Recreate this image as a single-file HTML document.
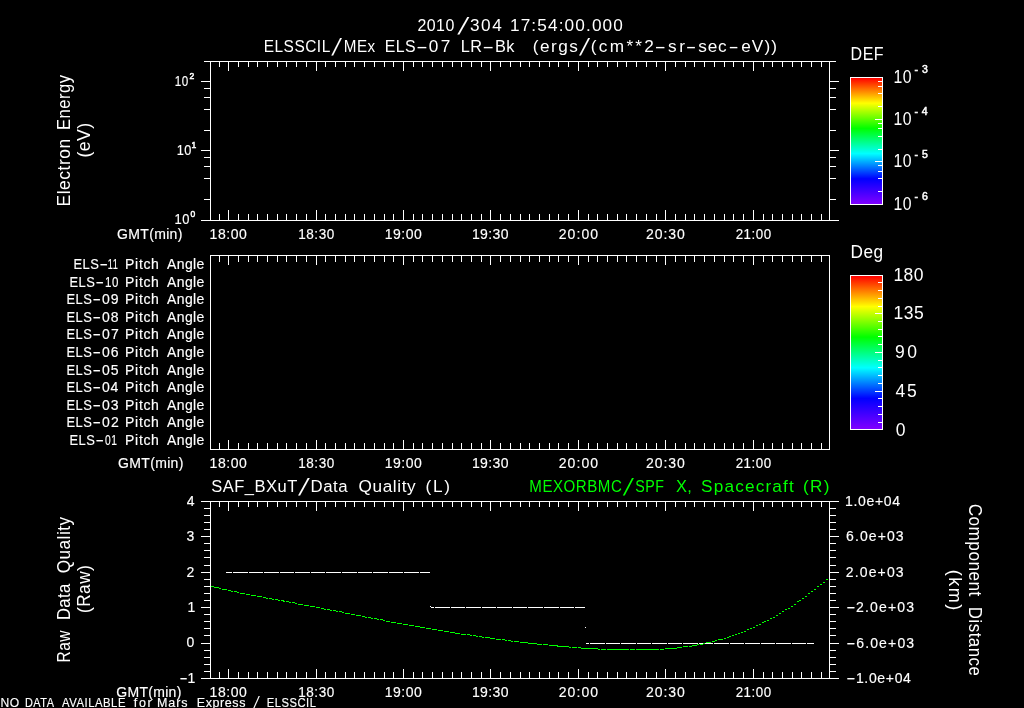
<!DOCTYPE html>
<html><head><meta charset="utf-8"><title>ELSSCIL plot</title>
<style>html,body{margin:0;padding:0;background:#000;overflow:hidden}svg{display:block}
text{font-family:"Liberation Sans", sans-serif;stroke:#fff;stroke-width:.15px;white-space:pre}text.g{stroke:#00ff00}text.b{stroke-width:.5px}text.T{stroke:none}</style>
</head><body>
<svg width="1024" height="708" viewBox="0 0 1024 708" shape-rendering="crispEdges">
<rect width="1024" height="708" fill="#000"/>
<rect x="210" y="61" width="620" height="1" fill="#fff"/>
<rect x="210" y="220" width="620" height="1" fill="#fff"/>
<rect x="210" y="61" width="1" height="160" fill="#fff"/>
<rect x="829" y="61" width="1" height="160" fill="#fff"/>
<rect x="219" y="61" width="1" height="6" fill="#fff"/>
<rect x="219" y="214" width="1" height="7" fill="#fff"/>
<rect x="228" y="61" width="1" height="10" fill="#fff"/>
<rect x="228" y="210" width="1" height="11" fill="#fff"/>
<rect x="238" y="61" width="1" height="6" fill="#fff"/>
<rect x="238" y="214" width="1" height="7" fill="#fff"/>
<rect x="248" y="61" width="1" height="6" fill="#fff"/>
<rect x="248" y="214" width="1" height="7" fill="#fff"/>
<rect x="257" y="61" width="1" height="6" fill="#fff"/>
<rect x="257" y="214" width="1" height="7" fill="#fff"/>
<rect x="267" y="61" width="1" height="6" fill="#fff"/>
<rect x="267" y="214" width="1" height="7" fill="#fff"/>
<rect x="277" y="61" width="1" height="6" fill="#fff"/>
<rect x="277" y="214" width="1" height="7" fill="#fff"/>
<rect x="286" y="61" width="1" height="6" fill="#fff"/>
<rect x="286" y="214" width="1" height="7" fill="#fff"/>
<rect x="296" y="61" width="1" height="6" fill="#fff"/>
<rect x="296" y="214" width="1" height="7" fill="#fff"/>
<rect x="306" y="61" width="1" height="6" fill="#fff"/>
<rect x="306" y="214" width="1" height="7" fill="#fff"/>
<rect x="316" y="61" width="1" height="10" fill="#fff"/>
<rect x="316" y="210" width="1" height="11" fill="#fff"/>
<rect x="325" y="61" width="1" height="6" fill="#fff"/>
<rect x="325" y="214" width="1" height="7" fill="#fff"/>
<rect x="335" y="61" width="1" height="6" fill="#fff"/>
<rect x="335" y="214" width="1" height="7" fill="#fff"/>
<rect x="345" y="61" width="1" height="6" fill="#fff"/>
<rect x="345" y="214" width="1" height="7" fill="#fff"/>
<rect x="354" y="61" width="1" height="6" fill="#fff"/>
<rect x="354" y="214" width="1" height="7" fill="#fff"/>
<rect x="364" y="61" width="1" height="6" fill="#fff"/>
<rect x="364" y="214" width="1" height="7" fill="#fff"/>
<rect x="374" y="61" width="1" height="6" fill="#fff"/>
<rect x="374" y="214" width="1" height="7" fill="#fff"/>
<rect x="384" y="61" width="1" height="6" fill="#fff"/>
<rect x="384" y="214" width="1" height="7" fill="#fff"/>
<rect x="393" y="61" width="1" height="6" fill="#fff"/>
<rect x="393" y="214" width="1" height="7" fill="#fff"/>
<rect x="403" y="61" width="1" height="10" fill="#fff"/>
<rect x="403" y="210" width="1" height="11" fill="#fff"/>
<rect x="413" y="61" width="1" height="6" fill="#fff"/>
<rect x="413" y="214" width="1" height="7" fill="#fff"/>
<rect x="422" y="61" width="1" height="6" fill="#fff"/>
<rect x="422" y="214" width="1" height="7" fill="#fff"/>
<rect x="432" y="61" width="1" height="6" fill="#fff"/>
<rect x="432" y="214" width="1" height="7" fill="#fff"/>
<rect x="442" y="61" width="1" height="6" fill="#fff"/>
<rect x="442" y="214" width="1" height="7" fill="#fff"/>
<rect x="452" y="61" width="1" height="6" fill="#fff"/>
<rect x="452" y="214" width="1" height="7" fill="#fff"/>
<rect x="461" y="61" width="1" height="6" fill="#fff"/>
<rect x="461" y="214" width="1" height="7" fill="#fff"/>
<rect x="471" y="61" width="1" height="6" fill="#fff"/>
<rect x="471" y="214" width="1" height="7" fill="#fff"/>
<rect x="481" y="61" width="1" height="6" fill="#fff"/>
<rect x="481" y="214" width="1" height="7" fill="#fff"/>
<rect x="490" y="61" width="1" height="10" fill="#fff"/>
<rect x="490" y="210" width="1" height="11" fill="#fff"/>
<rect x="500" y="61" width="1" height="6" fill="#fff"/>
<rect x="500" y="214" width="1" height="7" fill="#fff"/>
<rect x="510" y="61" width="1" height="6" fill="#fff"/>
<rect x="510" y="214" width="1" height="7" fill="#fff"/>
<rect x="520" y="61" width="1" height="6" fill="#fff"/>
<rect x="520" y="214" width="1" height="7" fill="#fff"/>
<rect x="529" y="61" width="1" height="6" fill="#fff"/>
<rect x="529" y="214" width="1" height="7" fill="#fff"/>
<rect x="539" y="61" width="1" height="6" fill="#fff"/>
<rect x="539" y="214" width="1" height="7" fill="#fff"/>
<rect x="549" y="61" width="1" height="6" fill="#fff"/>
<rect x="549" y="214" width="1" height="7" fill="#fff"/>
<rect x="558" y="61" width="1" height="6" fill="#fff"/>
<rect x="558" y="214" width="1" height="7" fill="#fff"/>
<rect x="568" y="61" width="1" height="6" fill="#fff"/>
<rect x="568" y="214" width="1" height="7" fill="#fff"/>
<rect x="578" y="61" width="1" height="10" fill="#fff"/>
<rect x="578" y="210" width="1" height="11" fill="#fff"/>
<rect x="588" y="61" width="1" height="6" fill="#fff"/>
<rect x="588" y="214" width="1" height="7" fill="#fff"/>
<rect x="597" y="61" width="1" height="6" fill="#fff"/>
<rect x="597" y="214" width="1" height="7" fill="#fff"/>
<rect x="607" y="61" width="1" height="6" fill="#fff"/>
<rect x="607" y="214" width="1" height="7" fill="#fff"/>
<rect x="617" y="61" width="1" height="6" fill="#fff"/>
<rect x="617" y="214" width="1" height="7" fill="#fff"/>
<rect x="626" y="61" width="1" height="6" fill="#fff"/>
<rect x="626" y="214" width="1" height="7" fill="#fff"/>
<rect x="636" y="61" width="1" height="6" fill="#fff"/>
<rect x="636" y="214" width="1" height="7" fill="#fff"/>
<rect x="646" y="61" width="1" height="6" fill="#fff"/>
<rect x="646" y="214" width="1" height="7" fill="#fff"/>
<rect x="656" y="61" width="1" height="6" fill="#fff"/>
<rect x="656" y="214" width="1" height="7" fill="#fff"/>
<rect x="665" y="61" width="1" height="10" fill="#fff"/>
<rect x="665" y="210" width="1" height="11" fill="#fff"/>
<rect x="675" y="61" width="1" height="6" fill="#fff"/>
<rect x="675" y="214" width="1" height="7" fill="#fff"/>
<rect x="685" y="61" width="1" height="6" fill="#fff"/>
<rect x="685" y="214" width="1" height="7" fill="#fff"/>
<rect x="694" y="61" width="1" height="6" fill="#fff"/>
<rect x="694" y="214" width="1" height="7" fill="#fff"/>
<rect x="704" y="61" width="1" height="6" fill="#fff"/>
<rect x="704" y="214" width="1" height="7" fill="#fff"/>
<rect x="714" y="61" width="1" height="6" fill="#fff"/>
<rect x="714" y="214" width="1" height="7" fill="#fff"/>
<rect x="724" y="61" width="1" height="6" fill="#fff"/>
<rect x="724" y="214" width="1" height="7" fill="#fff"/>
<rect x="733" y="61" width="1" height="6" fill="#fff"/>
<rect x="733" y="214" width="1" height="7" fill="#fff"/>
<rect x="743" y="61" width="1" height="6" fill="#fff"/>
<rect x="743" y="214" width="1" height="7" fill="#fff"/>
<rect x="753" y="61" width="1" height="10" fill="#fff"/>
<rect x="753" y="210" width="1" height="11" fill="#fff"/>
<rect x="763" y="61" width="1" height="6" fill="#fff"/>
<rect x="763" y="214" width="1" height="7" fill="#fff"/>
<rect x="772" y="61" width="1" height="6" fill="#fff"/>
<rect x="772" y="214" width="1" height="7" fill="#fff"/>
<rect x="782" y="61" width="1" height="6" fill="#fff"/>
<rect x="782" y="214" width="1" height="7" fill="#fff"/>
<rect x="792" y="61" width="1" height="6" fill="#fff"/>
<rect x="792" y="214" width="1" height="7" fill="#fff"/>
<rect x="801" y="61" width="1" height="6" fill="#fff"/>
<rect x="801" y="214" width="1" height="7" fill="#fff"/>
<rect x="811" y="61" width="1" height="6" fill="#fff"/>
<rect x="811" y="214" width="1" height="7" fill="#fff"/>
<rect x="821" y="61" width="1" height="6" fill="#fff"/>
<rect x="821" y="214" width="1" height="7" fill="#fff"/>
<text y="238.8" font-size="14" fill="#fff"><tspan x="209.56" style="letter-spacing:0.582px">18:00</tspan></text>
<text y="238.8" font-size="14" fill="#fff"><tspan x="298.35" textLength="36.31" lengthAdjust="spacingAndGlyphs" style="letter-spacing:0.518px">18:30</tspan></text>
<text y="238.8" font-size="14" fill="#fff"><tspan x="384.68" style="letter-spacing:0.520px">19:00</tspan></text>
<text y="238.8" font-size="14" fill="#fff"><tspan x="471.93" style="letter-spacing:0.395px">19:30</tspan></text>
<text y="238.8" font-size="14" fill="#fff"><tspan x="558.67" style="letter-spacing:1.117px">20:00</tspan></text>
<text y="238.8" font-size="14" fill="#fff"><tspan x="646.05" style="letter-spacing:0.929px">20:30</tspan></text>
<text y="238.8" font-size="14" fill="#fff"><tspan x="735.70" textLength="35.94" lengthAdjust="spacingAndGlyphs" style="letter-spacing:0.524px">21:00</tspan></text>
<text y="238.8" font-size="14" fill="#fff"><tspan x="117.05" style="letter-spacing:0.334px">GMT(min)</tspan></text>
<rect x="210" y="255" width="620" height="1" fill="#fff"/>
<rect x="210" y="449" width="620" height="1" fill="#fff"/>
<rect x="210" y="255" width="1" height="195" fill="#fff"/>
<rect x="829" y="255" width="1" height="195" fill="#fff"/>
<rect x="219" y="255" width="1" height="7" fill="#fff"/>
<rect x="219" y="443" width="1" height="7" fill="#fff"/>
<rect x="228" y="255" width="1" height="10" fill="#fff"/>
<rect x="228" y="440" width="1" height="10" fill="#fff"/>
<rect x="238" y="255" width="1" height="7" fill="#fff"/>
<rect x="238" y="443" width="1" height="7" fill="#fff"/>
<rect x="248" y="255" width="1" height="7" fill="#fff"/>
<rect x="248" y="443" width="1" height="7" fill="#fff"/>
<rect x="257" y="255" width="1" height="7" fill="#fff"/>
<rect x="257" y="443" width="1" height="7" fill="#fff"/>
<rect x="267" y="255" width="1" height="7" fill="#fff"/>
<rect x="267" y="443" width="1" height="7" fill="#fff"/>
<rect x="277" y="255" width="1" height="7" fill="#fff"/>
<rect x="277" y="443" width="1" height="7" fill="#fff"/>
<rect x="286" y="255" width="1" height="7" fill="#fff"/>
<rect x="286" y="443" width="1" height="7" fill="#fff"/>
<rect x="296" y="255" width="1" height="7" fill="#fff"/>
<rect x="296" y="443" width="1" height="7" fill="#fff"/>
<rect x="306" y="255" width="1" height="7" fill="#fff"/>
<rect x="306" y="443" width="1" height="7" fill="#fff"/>
<rect x="316" y="255" width="1" height="10" fill="#fff"/>
<rect x="316" y="440" width="1" height="10" fill="#fff"/>
<rect x="325" y="255" width="1" height="7" fill="#fff"/>
<rect x="325" y="443" width="1" height="7" fill="#fff"/>
<rect x="335" y="255" width="1" height="7" fill="#fff"/>
<rect x="335" y="443" width="1" height="7" fill="#fff"/>
<rect x="345" y="255" width="1" height="7" fill="#fff"/>
<rect x="345" y="443" width="1" height="7" fill="#fff"/>
<rect x="354" y="255" width="1" height="7" fill="#fff"/>
<rect x="354" y="443" width="1" height="7" fill="#fff"/>
<rect x="364" y="255" width="1" height="7" fill="#fff"/>
<rect x="364" y="443" width="1" height="7" fill="#fff"/>
<rect x="374" y="255" width="1" height="7" fill="#fff"/>
<rect x="374" y="443" width="1" height="7" fill="#fff"/>
<rect x="384" y="255" width="1" height="7" fill="#fff"/>
<rect x="384" y="443" width="1" height="7" fill="#fff"/>
<rect x="393" y="255" width="1" height="7" fill="#fff"/>
<rect x="393" y="443" width="1" height="7" fill="#fff"/>
<rect x="403" y="255" width="1" height="10" fill="#fff"/>
<rect x="403" y="440" width="1" height="10" fill="#fff"/>
<rect x="413" y="255" width="1" height="7" fill="#fff"/>
<rect x="413" y="443" width="1" height="7" fill="#fff"/>
<rect x="422" y="255" width="1" height="7" fill="#fff"/>
<rect x="422" y="443" width="1" height="7" fill="#fff"/>
<rect x="432" y="255" width="1" height="7" fill="#fff"/>
<rect x="432" y="443" width="1" height="7" fill="#fff"/>
<rect x="442" y="255" width="1" height="7" fill="#fff"/>
<rect x="442" y="443" width="1" height="7" fill="#fff"/>
<rect x="452" y="255" width="1" height="7" fill="#fff"/>
<rect x="452" y="443" width="1" height="7" fill="#fff"/>
<rect x="461" y="255" width="1" height="7" fill="#fff"/>
<rect x="461" y="443" width="1" height="7" fill="#fff"/>
<rect x="471" y="255" width="1" height="7" fill="#fff"/>
<rect x="471" y="443" width="1" height="7" fill="#fff"/>
<rect x="481" y="255" width="1" height="7" fill="#fff"/>
<rect x="481" y="443" width="1" height="7" fill="#fff"/>
<rect x="490" y="255" width="1" height="10" fill="#fff"/>
<rect x="490" y="440" width="1" height="10" fill="#fff"/>
<rect x="500" y="255" width="1" height="7" fill="#fff"/>
<rect x="500" y="443" width="1" height="7" fill="#fff"/>
<rect x="510" y="255" width="1" height="7" fill="#fff"/>
<rect x="510" y="443" width="1" height="7" fill="#fff"/>
<rect x="520" y="255" width="1" height="7" fill="#fff"/>
<rect x="520" y="443" width="1" height="7" fill="#fff"/>
<rect x="529" y="255" width="1" height="7" fill="#fff"/>
<rect x="529" y="443" width="1" height="7" fill="#fff"/>
<rect x="539" y="255" width="1" height="7" fill="#fff"/>
<rect x="539" y="443" width="1" height="7" fill="#fff"/>
<rect x="549" y="255" width="1" height="7" fill="#fff"/>
<rect x="549" y="443" width="1" height="7" fill="#fff"/>
<rect x="558" y="255" width="1" height="7" fill="#fff"/>
<rect x="558" y="443" width="1" height="7" fill="#fff"/>
<rect x="568" y="255" width="1" height="7" fill="#fff"/>
<rect x="568" y="443" width="1" height="7" fill="#fff"/>
<rect x="578" y="255" width="1" height="10" fill="#fff"/>
<rect x="578" y="440" width="1" height="10" fill="#fff"/>
<rect x="588" y="255" width="1" height="7" fill="#fff"/>
<rect x="588" y="443" width="1" height="7" fill="#fff"/>
<rect x="597" y="255" width="1" height="7" fill="#fff"/>
<rect x="597" y="443" width="1" height="7" fill="#fff"/>
<rect x="607" y="255" width="1" height="7" fill="#fff"/>
<rect x="607" y="443" width="1" height="7" fill="#fff"/>
<rect x="617" y="255" width="1" height="7" fill="#fff"/>
<rect x="617" y="443" width="1" height="7" fill="#fff"/>
<rect x="626" y="255" width="1" height="7" fill="#fff"/>
<rect x="626" y="443" width="1" height="7" fill="#fff"/>
<rect x="636" y="255" width="1" height="7" fill="#fff"/>
<rect x="636" y="443" width="1" height="7" fill="#fff"/>
<rect x="646" y="255" width="1" height="7" fill="#fff"/>
<rect x="646" y="443" width="1" height="7" fill="#fff"/>
<rect x="656" y="255" width="1" height="7" fill="#fff"/>
<rect x="656" y="443" width="1" height="7" fill="#fff"/>
<rect x="665" y="255" width="1" height="10" fill="#fff"/>
<rect x="665" y="440" width="1" height="10" fill="#fff"/>
<rect x="675" y="255" width="1" height="7" fill="#fff"/>
<rect x="675" y="443" width="1" height="7" fill="#fff"/>
<rect x="685" y="255" width="1" height="7" fill="#fff"/>
<rect x="685" y="443" width="1" height="7" fill="#fff"/>
<rect x="694" y="255" width="1" height="7" fill="#fff"/>
<rect x="694" y="443" width="1" height="7" fill="#fff"/>
<rect x="704" y="255" width="1" height="7" fill="#fff"/>
<rect x="704" y="443" width="1" height="7" fill="#fff"/>
<rect x="714" y="255" width="1" height="7" fill="#fff"/>
<rect x="714" y="443" width="1" height="7" fill="#fff"/>
<rect x="724" y="255" width="1" height="7" fill="#fff"/>
<rect x="724" y="443" width="1" height="7" fill="#fff"/>
<rect x="733" y="255" width="1" height="7" fill="#fff"/>
<rect x="733" y="443" width="1" height="7" fill="#fff"/>
<rect x="743" y="255" width="1" height="7" fill="#fff"/>
<rect x="743" y="443" width="1" height="7" fill="#fff"/>
<rect x="753" y="255" width="1" height="10" fill="#fff"/>
<rect x="753" y="440" width="1" height="10" fill="#fff"/>
<rect x="763" y="255" width="1" height="7" fill="#fff"/>
<rect x="763" y="443" width="1" height="7" fill="#fff"/>
<rect x="772" y="255" width="1" height="7" fill="#fff"/>
<rect x="772" y="443" width="1" height="7" fill="#fff"/>
<rect x="782" y="255" width="1" height="7" fill="#fff"/>
<rect x="782" y="443" width="1" height="7" fill="#fff"/>
<rect x="792" y="255" width="1" height="7" fill="#fff"/>
<rect x="792" y="443" width="1" height="7" fill="#fff"/>
<rect x="801" y="255" width="1" height="7" fill="#fff"/>
<rect x="801" y="443" width="1" height="7" fill="#fff"/>
<rect x="811" y="255" width="1" height="7" fill="#fff"/>
<rect x="811" y="443" width="1" height="7" fill="#fff"/>
<rect x="821" y="255" width="1" height="7" fill="#fff"/>
<rect x="821" y="443" width="1" height="7" fill="#fff"/>
<text y="467.8" font-size="14" fill="#fff"><tspan x="209.56" style="letter-spacing:0.582px">18:00</tspan></text>
<text y="467.8" font-size="14" fill="#fff"><tspan x="298.35" textLength="36.31" lengthAdjust="spacingAndGlyphs" style="letter-spacing:0.518px">18:30</tspan></text>
<text y="467.8" font-size="14" fill="#fff"><tspan x="384.68" style="letter-spacing:0.520px">19:00</tspan></text>
<text y="467.8" font-size="14" fill="#fff"><tspan x="471.93" style="letter-spacing:0.395px">19:30</tspan></text>
<text y="467.8" font-size="14" fill="#fff"><tspan x="558.67" style="letter-spacing:1.117px">20:00</tspan></text>
<text y="467.8" font-size="14" fill="#fff"><tspan x="646.05" style="letter-spacing:0.929px">20:30</tspan></text>
<text y="467.8" font-size="14" fill="#fff"><tspan x="735.70" textLength="35.94" lengthAdjust="spacingAndGlyphs" style="letter-spacing:0.524px">21:00</tspan></text>
<text y="467.8" font-size="14" fill="#fff"><tspan x="118.05" style="letter-spacing:0.334px">GMT(min)</tspan></text>
<rect x="210" y="501" width="620" height="1" fill="#fff"/>
<rect x="210" y="678" width="620" height="1" fill="#fff"/>
<rect x="210" y="501" width="1" height="178" fill="#fff"/>
<rect x="829" y="501" width="1" height="178" fill="#fff"/>
<rect x="219" y="501" width="1" height="6" fill="#fff"/>
<rect x="219" y="672" width="1" height="7" fill="#fff"/>
<rect x="228" y="501" width="1" height="10" fill="#fff"/>
<rect x="228" y="669" width="1" height="10" fill="#fff"/>
<rect x="238" y="501" width="1" height="6" fill="#fff"/>
<rect x="238" y="672" width="1" height="7" fill="#fff"/>
<rect x="248" y="501" width="1" height="6" fill="#fff"/>
<rect x="248" y="672" width="1" height="7" fill="#fff"/>
<rect x="257" y="501" width="1" height="6" fill="#fff"/>
<rect x="257" y="672" width="1" height="7" fill="#fff"/>
<rect x="267" y="501" width="1" height="6" fill="#fff"/>
<rect x="267" y="672" width="1" height="7" fill="#fff"/>
<rect x="277" y="501" width="1" height="6" fill="#fff"/>
<rect x="277" y="672" width="1" height="7" fill="#fff"/>
<rect x="286" y="501" width="1" height="6" fill="#fff"/>
<rect x="286" y="672" width="1" height="7" fill="#fff"/>
<rect x="296" y="501" width="1" height="6" fill="#fff"/>
<rect x="296" y="672" width="1" height="7" fill="#fff"/>
<rect x="306" y="501" width="1" height="6" fill="#fff"/>
<rect x="306" y="672" width="1" height="7" fill="#fff"/>
<rect x="316" y="501" width="1" height="10" fill="#fff"/>
<rect x="316" y="669" width="1" height="10" fill="#fff"/>
<rect x="325" y="501" width="1" height="6" fill="#fff"/>
<rect x="325" y="672" width="1" height="7" fill="#fff"/>
<rect x="335" y="501" width="1" height="6" fill="#fff"/>
<rect x="335" y="672" width="1" height="7" fill="#fff"/>
<rect x="345" y="501" width="1" height="6" fill="#fff"/>
<rect x="345" y="672" width="1" height="7" fill="#fff"/>
<rect x="354" y="501" width="1" height="6" fill="#fff"/>
<rect x="354" y="672" width="1" height="7" fill="#fff"/>
<rect x="364" y="501" width="1" height="6" fill="#fff"/>
<rect x="364" y="672" width="1" height="7" fill="#fff"/>
<rect x="374" y="501" width="1" height="6" fill="#fff"/>
<rect x="374" y="672" width="1" height="7" fill="#fff"/>
<rect x="384" y="501" width="1" height="6" fill="#fff"/>
<rect x="384" y="672" width="1" height="7" fill="#fff"/>
<rect x="393" y="501" width="1" height="6" fill="#fff"/>
<rect x="393" y="672" width="1" height="7" fill="#fff"/>
<rect x="403" y="501" width="1" height="10" fill="#fff"/>
<rect x="403" y="669" width="1" height="10" fill="#fff"/>
<rect x="413" y="501" width="1" height="6" fill="#fff"/>
<rect x="413" y="672" width="1" height="7" fill="#fff"/>
<rect x="422" y="501" width="1" height="6" fill="#fff"/>
<rect x="422" y="672" width="1" height="7" fill="#fff"/>
<rect x="432" y="501" width="1" height="6" fill="#fff"/>
<rect x="432" y="672" width="1" height="7" fill="#fff"/>
<rect x="442" y="501" width="1" height="6" fill="#fff"/>
<rect x="442" y="672" width="1" height="7" fill="#fff"/>
<rect x="452" y="501" width="1" height="6" fill="#fff"/>
<rect x="452" y="672" width="1" height="7" fill="#fff"/>
<rect x="461" y="501" width="1" height="6" fill="#fff"/>
<rect x="461" y="672" width="1" height="7" fill="#fff"/>
<rect x="471" y="501" width="1" height="6" fill="#fff"/>
<rect x="471" y="672" width="1" height="7" fill="#fff"/>
<rect x="481" y="501" width="1" height="6" fill="#fff"/>
<rect x="481" y="672" width="1" height="7" fill="#fff"/>
<rect x="490" y="501" width="1" height="10" fill="#fff"/>
<rect x="490" y="669" width="1" height="10" fill="#fff"/>
<rect x="500" y="501" width="1" height="6" fill="#fff"/>
<rect x="500" y="672" width="1" height="7" fill="#fff"/>
<rect x="510" y="501" width="1" height="6" fill="#fff"/>
<rect x="510" y="672" width="1" height="7" fill="#fff"/>
<rect x="520" y="501" width="1" height="6" fill="#fff"/>
<rect x="520" y="672" width="1" height="7" fill="#fff"/>
<rect x="529" y="501" width="1" height="6" fill="#fff"/>
<rect x="529" y="672" width="1" height="7" fill="#fff"/>
<rect x="539" y="501" width="1" height="6" fill="#fff"/>
<rect x="539" y="672" width="1" height="7" fill="#fff"/>
<rect x="549" y="501" width="1" height="6" fill="#fff"/>
<rect x="549" y="672" width="1" height="7" fill="#fff"/>
<rect x="558" y="501" width="1" height="6" fill="#fff"/>
<rect x="558" y="672" width="1" height="7" fill="#fff"/>
<rect x="568" y="501" width="1" height="6" fill="#fff"/>
<rect x="568" y="672" width="1" height="7" fill="#fff"/>
<rect x="578" y="501" width="1" height="10" fill="#fff"/>
<rect x="578" y="669" width="1" height="10" fill="#fff"/>
<rect x="588" y="501" width="1" height="6" fill="#fff"/>
<rect x="588" y="672" width="1" height="7" fill="#fff"/>
<rect x="597" y="501" width="1" height="6" fill="#fff"/>
<rect x="597" y="672" width="1" height="7" fill="#fff"/>
<rect x="607" y="501" width="1" height="6" fill="#fff"/>
<rect x="607" y="672" width="1" height="7" fill="#fff"/>
<rect x="617" y="501" width="1" height="6" fill="#fff"/>
<rect x="617" y="672" width="1" height="7" fill="#fff"/>
<rect x="626" y="501" width="1" height="6" fill="#fff"/>
<rect x="626" y="672" width="1" height="7" fill="#fff"/>
<rect x="636" y="501" width="1" height="6" fill="#fff"/>
<rect x="636" y="672" width="1" height="7" fill="#fff"/>
<rect x="646" y="501" width="1" height="6" fill="#fff"/>
<rect x="646" y="672" width="1" height="7" fill="#fff"/>
<rect x="656" y="501" width="1" height="6" fill="#fff"/>
<rect x="656" y="672" width="1" height="7" fill="#fff"/>
<rect x="665" y="501" width="1" height="10" fill="#fff"/>
<rect x="665" y="669" width="1" height="10" fill="#fff"/>
<rect x="675" y="501" width="1" height="6" fill="#fff"/>
<rect x="675" y="672" width="1" height="7" fill="#fff"/>
<rect x="685" y="501" width="1" height="6" fill="#fff"/>
<rect x="685" y="672" width="1" height="7" fill="#fff"/>
<rect x="694" y="501" width="1" height="6" fill="#fff"/>
<rect x="694" y="672" width="1" height="7" fill="#fff"/>
<rect x="704" y="501" width="1" height="6" fill="#fff"/>
<rect x="704" y="672" width="1" height="7" fill="#fff"/>
<rect x="714" y="501" width="1" height="6" fill="#fff"/>
<rect x="714" y="672" width="1" height="7" fill="#fff"/>
<rect x="724" y="501" width="1" height="6" fill="#fff"/>
<rect x="724" y="672" width="1" height="7" fill="#fff"/>
<rect x="733" y="501" width="1" height="6" fill="#fff"/>
<rect x="733" y="672" width="1" height="7" fill="#fff"/>
<rect x="743" y="501" width="1" height="6" fill="#fff"/>
<rect x="743" y="672" width="1" height="7" fill="#fff"/>
<rect x="753" y="501" width="1" height="10" fill="#fff"/>
<rect x="753" y="669" width="1" height="10" fill="#fff"/>
<rect x="763" y="501" width="1" height="6" fill="#fff"/>
<rect x="763" y="672" width="1" height="7" fill="#fff"/>
<rect x="772" y="501" width="1" height="6" fill="#fff"/>
<rect x="772" y="672" width="1" height="7" fill="#fff"/>
<rect x="782" y="501" width="1" height="6" fill="#fff"/>
<rect x="782" y="672" width="1" height="7" fill="#fff"/>
<rect x="792" y="501" width="1" height="6" fill="#fff"/>
<rect x="792" y="672" width="1" height="7" fill="#fff"/>
<rect x="801" y="501" width="1" height="6" fill="#fff"/>
<rect x="801" y="672" width="1" height="7" fill="#fff"/>
<rect x="811" y="501" width="1" height="6" fill="#fff"/>
<rect x="811" y="672" width="1" height="7" fill="#fff"/>
<rect x="821" y="501" width="1" height="6" fill="#fff"/>
<rect x="821" y="672" width="1" height="7" fill="#fff"/>
<text y="696.8" font-size="14" fill="#fff"><tspan x="209.56" style="letter-spacing:0.582px">18:00</tspan></text>
<text y="696.8" font-size="14" fill="#fff"><tspan x="298.35" textLength="36.31" lengthAdjust="spacingAndGlyphs" style="letter-spacing:0.518px">18:30</tspan></text>
<text y="696.8" font-size="14" fill="#fff"><tspan x="384.68" style="letter-spacing:0.520px">19:00</tspan></text>
<text y="696.8" font-size="14" fill="#fff"><tspan x="471.93" style="letter-spacing:0.395px">19:30</tspan></text>
<text y="696.8" font-size="14" fill="#fff"><tspan x="558.67" style="letter-spacing:1.117px">20:00</tspan></text>
<text y="696.8" font-size="14" fill="#fff"><tspan x="646.05" style="letter-spacing:0.929px">20:30</tspan></text>
<text y="696.8" font-size="14" fill="#fff"><tspan x="735.70" textLength="35.94" lengthAdjust="spacingAndGlyphs" style="letter-spacing:0.524px">21:00</tspan></text>
<text y="696.8" font-size="14" fill="#fff"><tspan x="116.30" style="letter-spacing:0.298px">GMT(min)</tspan></text>
<rect x="201" y="220" width="10" height="1" fill="#fff"/>
<rect x="829" y="220" width="10" height="1" fill="#fff"/>
<rect x="204" y="199" width="7" height="1" fill="#fff"/>
<rect x="829" y="199" width="7" height="1" fill="#fff"/>
<rect x="204" y="178" width="7" height="1" fill="#fff"/>
<rect x="829" y="178" width="7" height="1" fill="#fff"/>
<rect x="204" y="166" width="7" height="1" fill="#fff"/>
<rect x="829" y="166" width="7" height="1" fill="#fff"/>
<rect x="204" y="157" width="7" height="1" fill="#fff"/>
<rect x="829" y="157" width="7" height="1" fill="#fff"/>
<rect x="201" y="150" width="10" height="1" fill="#fff"/>
<rect x="829" y="150" width="10" height="1" fill="#fff"/>
<rect x="204" y="130" width="7" height="1" fill="#fff"/>
<rect x="829" y="130" width="7" height="1" fill="#fff"/>
<rect x="204" y="109" width="7" height="1" fill="#fff"/>
<rect x="829" y="109" width="7" height="1" fill="#fff"/>
<rect x="204" y="97" width="7" height="1" fill="#fff"/>
<rect x="829" y="97" width="7" height="1" fill="#fff"/>
<rect x="204" y="88" width="7" height="1" fill="#fff"/>
<rect x="829" y="88" width="7" height="1" fill="#fff"/>
<rect x="201" y="81" width="10" height="1" fill="#fff"/>
<rect x="829" y="81" width="10" height="1" fill="#fff"/>
<rect x="204" y="61" width="7" height="1" fill="#fff"/>
<rect x="829" y="61" width="7" height="1" fill="#fff"/>
<text y="86.3" font-size="14" fill="#fff"><tspan x="174.71" textLength="14.00" lengthAdjust="spacingAndGlyphs" style="letter-spacing:0.599px">10</tspan></text>
<text y="79.2" font-size="8.5" fill="#fff" class="b"><tspan x="189.51">2</tspan></text>
<text y="155.3" font-size="14" fill="#fff"><tspan x="176.78" textLength="15.22" lengthAdjust="spacingAndGlyphs" style="letter-spacing:0.547px">10</tspan></text>
<text y="148.2" font-size="8.5" fill="#fff" class="b"><tspan x="191.52">1</tspan></text>
<text y="224" font-size="14" fill="#fff"><tspan x="174.61" textLength="15.39" lengthAdjust="spacingAndGlyphs" style="letter-spacing:0.541px">10</tspan></text>
<text y="217" font-size="8.5" fill="#fff" class="b"><tspan x="190.39">0</tspan></text>
<rect x="201" y="501" width="10" height="1" fill="#fff"/>
<rect x="829" y="501" width="10" height="1" fill="#fff"/>
<rect x="204" y="508" width="7" height="1" fill="#fff"/>
<rect x="829" y="508" width="7" height="1" fill="#fff"/>
<rect x="204" y="515" width="7" height="1" fill="#fff"/>
<rect x="829" y="515" width="7" height="1" fill="#fff"/>
<rect x="204" y="522" width="7" height="1" fill="#fff"/>
<rect x="829" y="522" width="7" height="1" fill="#fff"/>
<rect x="204" y="529" width="7" height="1" fill="#fff"/>
<rect x="829" y="529" width="7" height="1" fill="#fff"/>
<rect x="201" y="536" width="10" height="1" fill="#fff"/>
<rect x="829" y="536" width="10" height="1" fill="#fff"/>
<rect x="204" y="543" width="7" height="1" fill="#fff"/>
<rect x="829" y="543" width="7" height="1" fill="#fff"/>
<rect x="204" y="550" width="7" height="1" fill="#fff"/>
<rect x="829" y="550" width="7" height="1" fill="#fff"/>
<rect x="204" y="557" width="7" height="1" fill="#fff"/>
<rect x="829" y="557" width="7" height="1" fill="#fff"/>
<rect x="204" y="565" width="7" height="1" fill="#fff"/>
<rect x="829" y="565" width="7" height="1" fill="#fff"/>
<rect x="201" y="572" width="10" height="1" fill="#fff"/>
<rect x="829" y="572" width="10" height="1" fill="#fff"/>
<rect x="204" y="579" width="7" height="1" fill="#fff"/>
<rect x="829" y="579" width="7" height="1" fill="#fff"/>
<rect x="204" y="586" width="7" height="1" fill="#fff"/>
<rect x="829" y="586" width="7" height="1" fill="#fff"/>
<rect x="204" y="593" width="7" height="1" fill="#fff"/>
<rect x="829" y="593" width="7" height="1" fill="#fff"/>
<rect x="204" y="600" width="7" height="1" fill="#fff"/>
<rect x="829" y="600" width="7" height="1" fill="#fff"/>
<rect x="201" y="607" width="10" height="1" fill="#fff"/>
<rect x="829" y="607" width="10" height="1" fill="#fff"/>
<rect x="204" y="614" width="7" height="1" fill="#fff"/>
<rect x="829" y="614" width="7" height="1" fill="#fff"/>
<rect x="204" y="621" width="7" height="1" fill="#fff"/>
<rect x="829" y="621" width="7" height="1" fill="#fff"/>
<rect x="204" y="628" width="7" height="1" fill="#fff"/>
<rect x="829" y="628" width="7" height="1" fill="#fff"/>
<rect x="204" y="635" width="7" height="1" fill="#fff"/>
<rect x="829" y="635" width="7" height="1" fill="#fff"/>
<rect x="201" y="643" width="10" height="1" fill="#fff"/>
<rect x="829" y="643" width="10" height="1" fill="#fff"/>
<rect x="204" y="650" width="7" height="1" fill="#fff"/>
<rect x="829" y="650" width="7" height="1" fill="#fff"/>
<rect x="204" y="657" width="7" height="1" fill="#fff"/>
<rect x="829" y="657" width="7" height="1" fill="#fff"/>
<rect x="204" y="664" width="7" height="1" fill="#fff"/>
<rect x="829" y="664" width="7" height="1" fill="#fff"/>
<rect x="204" y="671" width="7" height="1" fill="#fff"/>
<rect x="829" y="671" width="7" height="1" fill="#fff"/>
<rect x="201" y="678" width="10" height="1" fill="#fff"/>
<rect x="829" y="678" width="10" height="1" fill="#fff"/>
<text y="506" font-size="14" fill="#fff"><tspan x="186.65">4</tspan></text>
<text y="541" font-size="14" fill="#fff"><tspan x="186.52">3</tspan></text>
<text y="577" font-size="14" fill="#fff"><tspan x="186.61">2</tspan></text>
<text y="612" font-size="14" fill="#fff"><tspan x="187.42">1</tspan></text>
<text y="647.2" font-size="14" fill="#fff"><tspan x="186.61">0</tspan></text>
<text y="683" font-size="14" fill="#fff"><tspan x="179.41" textLength="8.18" lengthAdjust="spacingAndGlyphs">-</tspan><tspan x="187.42">1</tspan></text>
<text y="505.8" font-size="14" fill="#fff"><tspan x="844.93" style="letter-spacing:0.705px">1.0e+04</tspan></text>
<text y="540.8" font-size="14" fill="#fff"><tspan x="846.04" style="letter-spacing:1.097px">6.0e+03</tspan></text>
<text y="576.8" font-size="14" fill="#fff"><tspan x="845.80" style="letter-spacing:1.137px">2.0e+03</tspan></text>
<text y="611.8" font-size="14" fill="#fff"><tspan x="846.27" textLength="9.21" lengthAdjust="spacingAndGlyphs">-</tspan><tspan x="856.05" style="letter-spacing:1.179px">2.0e+03</tspan></text>
<text y="647.8" font-size="14" fill="#fff"><tspan x="846.27" textLength="9.21" lengthAdjust="spacingAndGlyphs">-</tspan><tspan x="856.19" style="letter-spacing:1.155px">6.0e+03</tspan></text>
<text y="682.8" font-size="14" fill="#fff"><tspan x="846.27" textLength="9.21" lengthAdjust="spacingAndGlyphs">-</tspan><tspan x="855.93" style="letter-spacing:0.663px">1.0e+04</tspan></text>
<text y="269.0" font-size="14" fill="#fff"><tspan x="73.44" textLength="25.90" lengthAdjust="spacingAndGlyphs" style="letter-spacing:0.542px">ELS</tspan><tspan x="99.61" textLength="8.53" lengthAdjust="spacingAndGlyphs">-</tspan><tspan x="107.84" textLength="10.58" lengthAdjust="spacingAndGlyphs" style="letter-spacing:0.813px">11</tspan> <tspan x="125.10" style="letter-spacing:0.671px">Pitch</tspan> <tspan x="166.97" style="letter-spacing:0.398px">Angle</tspan></text>
<text y="286.5" font-size="14" fill="#fff"><tspan x="69.44" textLength="25.90" lengthAdjust="spacingAndGlyphs" style="letter-spacing:0.542px">ELS</tspan><tspan x="95.61" textLength="8.53" lengthAdjust="spacingAndGlyphs">-</tspan><tspan x="105.12" textLength="13.83" lengthAdjust="spacingAndGlyphs" style="letter-spacing:0.607px">10</tspan> <tspan x="125.10" style="letter-spacing:0.671px">Pitch</tspan> <tspan x="166.97" style="letter-spacing:0.398px">Angle</tspan></text>
<text y="304.0" font-size="14" fill="#fff"><tspan x="66.44" textLength="25.90" lengthAdjust="spacingAndGlyphs" style="letter-spacing:0.542px">ELS</tspan><tspan x="92.61" textLength="8.53" lengthAdjust="spacingAndGlyphs">-</tspan><tspan x="101.95" style="letter-spacing:1.138px">09</tspan> <tspan x="125.10" style="letter-spacing:0.671px">Pitch</tspan> <tspan x="166.97" style="letter-spacing:0.398px">Angle</tspan></text>
<text y="321.5" font-size="14" fill="#fff"><tspan x="66.44" textLength="25.90" lengthAdjust="spacingAndGlyphs" style="letter-spacing:0.542px">ELS</tspan><tspan x="92.61" textLength="8.53" lengthAdjust="spacingAndGlyphs">-</tspan><tspan x="101.95" style="letter-spacing:1.083px">08</tspan> <tspan x="125.10" style="letter-spacing:0.671px">Pitch</tspan> <tspan x="166.97" style="letter-spacing:0.398px">Angle</tspan></text>
<text y="339.0" font-size="14" fill="#fff"><tspan x="66.44" textLength="25.90" lengthAdjust="spacingAndGlyphs" style="letter-spacing:0.542px">ELS</tspan><tspan x="92.61" textLength="8.53" lengthAdjust="spacingAndGlyphs">-</tspan><tspan x="101.95" style="letter-spacing:1.179px">07</tspan> <tspan x="125.10" style="letter-spacing:0.671px">Pitch</tspan> <tspan x="166.97" style="letter-spacing:0.398px">Angle</tspan></text>
<text y="357.0" font-size="14" fill="#fff"><tspan x="66.44" textLength="25.90" lengthAdjust="spacingAndGlyphs" style="letter-spacing:0.542px">ELS</tspan><tspan x="92.61" textLength="8.53" lengthAdjust="spacingAndGlyphs">-</tspan><tspan x="101.95" style="letter-spacing:1.090px">06</tspan> <tspan x="125.10" style="letter-spacing:0.671px">Pitch</tspan> <tspan x="166.97" style="letter-spacing:0.398px">Angle</tspan></text>
<text y="374.5" font-size="14" fill="#fff"><tspan x="66.44" textLength="25.90" lengthAdjust="spacingAndGlyphs" style="letter-spacing:0.542px">ELS</tspan><tspan x="92.61" textLength="8.53" lengthAdjust="spacingAndGlyphs">-</tspan><tspan x="101.95" style="letter-spacing:1.062px">05</tspan> <tspan x="125.10" style="letter-spacing:0.671px">Pitch</tspan> <tspan x="166.97" style="letter-spacing:0.398px">Angle</tspan></text>
<text y="392.0" font-size="14" fill="#fff"><tspan x="66.44" textLength="25.90" lengthAdjust="spacingAndGlyphs" style="letter-spacing:0.542px">ELS</tspan><tspan x="92.61" textLength="8.53" lengthAdjust="spacingAndGlyphs">-</tspan><tspan x="101.95" style="letter-spacing:0.885px">04</tspan> <tspan x="125.10" style="letter-spacing:0.671px">Pitch</tspan> <tspan x="166.97" style="letter-spacing:0.398px">Angle</tspan></text>
<text y="409.5" font-size="14" fill="#fff"><tspan x="66.44" textLength="25.90" lengthAdjust="spacingAndGlyphs" style="letter-spacing:0.542px">ELS</tspan><tspan x="92.61" textLength="8.53" lengthAdjust="spacingAndGlyphs">-</tspan><tspan x="101.95" style="letter-spacing:1.090px">03</tspan> <tspan x="125.10" style="letter-spacing:0.671px">Pitch</tspan> <tspan x="166.97" style="letter-spacing:0.398px">Angle</tspan></text>
<text y="427.0" font-size="14" fill="#fff"><tspan x="66.44" textLength="25.90" lengthAdjust="spacingAndGlyphs" style="letter-spacing:0.542px">ELS</tspan><tspan x="92.61" textLength="8.53" lengthAdjust="spacingAndGlyphs">-</tspan><tspan x="101.95" style="letter-spacing:1.179px">02</tspan> <tspan x="125.10" style="letter-spacing:0.671px">Pitch</tspan> <tspan x="166.97" style="letter-spacing:0.398px">Angle</tspan></text>
<text y="445.0" font-size="14" fill="#fff"><tspan x="69.44" textLength="25.90" lengthAdjust="spacingAndGlyphs" style="letter-spacing:0.542px">ELS</tspan><tspan x="95.61" textLength="8.53" lengthAdjust="spacingAndGlyphs">-</tspan><tspan x="105.10" textLength="12.40" lengthAdjust="spacingAndGlyphs" style="letter-spacing:0.683px">01</tspan> <tspan x="125.10" style="letter-spacing:0.671px">Pitch</tspan> <tspan x="166.97" style="letter-spacing:0.398px">Angle</tspan></text>
<defs><linearGradient id="rb" x1="0" y1="0" x2="0" y2="1"><stop offset="0" stop-color="#ff0000"/><stop offset="0.2" stop-color="#ffff00"/><stop offset="0.4" stop-color="#00ff00"/><stop offset="0.6" stop-color="#00ffff"/><stop offset="0.8" stop-color="#0000ff"/><stop offset="1" stop-color="#8000ff"/></linearGradient></defs>
<rect x="851" y="78" width="31" height="126" fill="url(#rb)"/>
<rect x="850" y="77" width="33" height="1" fill="#fff"/>
<rect x="850" y="204" width="33" height="1" fill="#fff"/>
<rect x="850" y="77" width="1" height="128" fill="#fff"/>
<rect x="882" y="77" width="1" height="128" fill="#fff"/>
<rect x="878" y="81" width="5" height="1" fill="#fff"/>
<rect x="878" y="86" width="5" height="1" fill="#fff"/>
<rect x="878" y="93" width="5" height="1" fill="#fff"/>
<rect x="878" y="106" width="5" height="1" fill="#fff"/>
<rect x="875" y="119" width="8" height="1" fill="#fff"/>
<rect x="878" y="123" width="5" height="1" fill="#fff"/>
<rect x="878" y="128" width="5" height="1" fill="#fff"/>
<rect x="878" y="136" width="5" height="1" fill="#fff"/>
<rect x="878" y="149" width="5" height="1" fill="#fff"/>
<rect x="875" y="161" width="8" height="1" fill="#fff"/>
<rect x="878" y="165" width="5" height="1" fill="#fff"/>
<rect x="878" y="171" width="5" height="1" fill="#fff"/>
<rect x="878" y="178" width="5" height="1" fill="#fff"/>
<rect x="878" y="191" width="5" height="1" fill="#fff"/>
<text y="82.6" font-size="18" fill="#fff" class="T"><tspan x="893.55" textLength="18.57" lengthAdjust="spacingAndGlyphs" style="letter-spacing:0.570px">10</tspan></text>
<text y="73.0" font-size="10.5" fill="#fff" class="b"><tspan x="914.53" style="letter-spacing:3.992px">-3</tspan></text>
<text y="124.89999999999999" font-size="18" fill="#fff" class="T"><tspan x="893.55" textLength="18.57" lengthAdjust="spacingAndGlyphs" style="letter-spacing:0.570px">10</tspan></text>
<text y="115.33" font-size="10.5" fill="#fff" class="b"><tspan x="914.53" style="letter-spacing:3.838px">-4</tspan></text>
<text y="167.2" font-size="18" fill="#fff" class="T"><tspan x="893.55" textLength="18.57" lengthAdjust="spacingAndGlyphs" style="letter-spacing:0.570px">10</tspan></text>
<text y="157.66" font-size="10.5" fill="#fff" class="b"><tspan x="914.53" style="letter-spacing:3.971px">-5</tspan></text>
<text y="209.5" font-size="18" fill="#fff" class="T"><tspan x="893.55" textLength="18.57" lengthAdjust="spacingAndGlyphs" style="letter-spacing:0.570px">10</tspan></text>
<text y="199.99" font-size="10.5" fill="#fff" class="b"><tspan x="914.53" style="letter-spacing:3.992px">-6</tspan></text>
<text y="60" font-size="18.5" fill="#fff" class="T"><tspan x="850.59" textLength="33.56" lengthAdjust="spacingAndGlyphs" style="letter-spacing:0.577px">DEF</tspan></text>
<rect x="851" y="276" width="31" height="153" fill="url(#rb)"/>
<rect x="850" y="275" width="33" height="1" fill="#fff"/>
<rect x="850" y="429" width="33" height="1" fill="#fff"/>
<rect x="850" y="275" width="1" height="155" fill="#fff"/>
<rect x="882" y="275" width="1" height="155" fill="#fff"/>
<rect x="878" y="282" width="5" height="1" fill="#fff"/>
<rect x="878" y="290" width="5" height="1" fill="#fff"/>
<rect x="878" y="298" width="5" height="1" fill="#fff"/>
<rect x="878" y="306" width="5" height="1" fill="#fff"/>
<rect x="875" y="313" width="8" height="1" fill="#fff"/>
<rect x="878" y="321" width="5" height="1" fill="#fff"/>
<rect x="878" y="329" width="5" height="1" fill="#fff"/>
<rect x="878" y="336" width="5" height="1" fill="#fff"/>
<rect x="878" y="344" width="5" height="1" fill="#fff"/>
<rect x="875" y="352" width="8" height="1" fill="#fff"/>
<rect x="878" y="360" width="5" height="1" fill="#fff"/>
<rect x="878" y="367" width="5" height="1" fill="#fff"/>
<rect x="878" y="375" width="5" height="1" fill="#fff"/>
<rect x="878" y="383" width="5" height="1" fill="#fff"/>
<rect x="875" y="391" width="8" height="1" fill="#fff"/>
<rect x="878" y="398" width="5" height="1" fill="#fff"/>
<rect x="878" y="406" width="5" height="1" fill="#fff"/>
<rect x="878" y="414" width="5" height="1" fill="#fff"/>
<rect x="878" y="422" width="5" height="1" fill="#fff"/>
<text y="280.8" font-size="17.5" fill="#fff" class="T"><tspan x="893.42" style="letter-spacing:0.484px">180</tspan></text>
<text y="319" font-size="17.5" fill="#fff" class="T"><tspan x="893.42" style="letter-spacing:0.510px">135</tspan></text>
<text y="358" font-size="17.5" fill="#fff" class="T"><tspan x="894.98" style="letter-spacing:2.439px">90</tspan></text>
<text y="396.9" font-size="17.5" fill="#fff" class="T"><tspan x="895.60" style="letter-spacing:1.671px">45</tspan></text>
<text y="435.6" font-size="17.5" fill="#fff" class="T"><tspan x="895.63">0</tspan></text>
<text y="258" font-size="18" fill="#fff" class="T"><tspan x="850.49" textLength="33.13" lengthAdjust="spacingAndGlyphs" style="letter-spacing:0.522px">Deg</tspan></text>
<text y="30.6" font-size="17.2" fill="#fff" class="T"><tspan x="417.40" textLength="37.47" lengthAdjust="spacingAndGlyphs" style="letter-spacing:0.539px">2010</tspan><tspan x="456.89" dy="2.0" font-size="21.5" font-family="DejaVu Sans Light, DejaVu Sans, sans-serif" font-weight="200" textLength="13.22" lengthAdjust="spacingAndGlyphs" style="stroke:none">/</tspan><tspan x="470.09" dy="-2.0" style="letter-spacing:1.481px">304</tspan> <tspan x="509.94" style="letter-spacing:1.141px">17:54:00.000</tspan></text>
<text y="52" font-size="17.2" fill="#fff" class="T"><tspan x="263.73" textLength="67.03" lengthAdjust="spacingAndGlyphs" style="letter-spacing:0.557px">ELSSCIL</tspan><tspan x="330.71" dy="2.0" font-size="21.5" font-family="DejaVu Sans Light, DejaVu Sans, sans-serif" font-weight="200" textLength="11.73" lengthAdjust="spacingAndGlyphs" style="stroke:none">/</tspan><tspan x="343.75" dy="-2.0" textLength="31.91" lengthAdjust="spacingAndGlyphs" style="letter-spacing:0.566px">MEx</tspan> <tspan x="384.70" textLength="31.53" lengthAdjust="spacingAndGlyphs" style="letter-spacing:0.541px">ELS</tspan><tspan x="415.91" textLength="11.93" lengthAdjust="spacingAndGlyphs">-</tspan><tspan x="428.83" style="letter-spacing:2.405px">07</tspan> <tspan x="460.66" textLength="21.84" lengthAdjust="spacingAndGlyphs" style="letter-spacing:0.527px">LR</tspan><tspan x="482.16" textLength="11.93" lengthAdjust="spacingAndGlyphs">-</tspan><tspan x="494.91" textLength="20.07" lengthAdjust="spacingAndGlyphs" style="letter-spacing:0.526px">Bk</tspan>  <tspan x="532.68" style="letter-spacing:1.500px">(ergs</tspan><tspan x="578.44" dy="2.0" font-size="21.5" font-family="DejaVu Sans Light, DejaVu Sans, sans-serif" font-weight="200" textLength="12.11" lengthAdjust="spacingAndGlyphs" style="stroke:none">/</tspan><tspan x="590.83" dy="-2.0" style="letter-spacing:2.305px">(cm**2</tspan><tspan x="654.47" textLength="11.46" lengthAdjust="spacingAndGlyphs">-</tspan><tspan x="668.02" style="letter-spacing:2.687px">sr</tspan><tspan x="685.84" textLength="10.57" lengthAdjust="spacingAndGlyphs">-</tspan><tspan x="698.27" style="letter-spacing:0.833px">sec</tspan><tspan x="728.63" textLength="10.23" lengthAdjust="spacingAndGlyphs">-</tspan><tspan x="741.17" style="letter-spacing:1.135px">eV))</tspan></text>
<text y="492" font-size="17.2" fill="#fff" class="T"><tspan x="211.15" textLength="86.63" lengthAdjust="spacingAndGlyphs" style="letter-spacing:0.521px">SAF_BXuT</tspan><tspan x="297.51" dy="2.0" font-size="21.5" font-family="DejaVu Sans Light, DejaVu Sans, sans-serif" font-weight="200" textLength="12.83" lengthAdjust="spacingAndGlyphs" style="stroke:none">/</tspan><tspan x="310.52" dy="-2.0" textLength="37.48" lengthAdjust="spacingAndGlyphs" style="letter-spacing:0.512px">Data</tspan> <tspan x="358.59" style="letter-spacing:0.586px">Quality</tspan> <tspan x="425.43" style="letter-spacing:1.806px">(L)</tspan></text>
<text y="492" font-size="17.2" fill="#00ff00" class="g T"><tspan x="529.36" textLength="92.96" lengthAdjust="spacingAndGlyphs" style="letter-spacing:0.569px">MEXORBMC</tspan><tspan x="622.33" dy="2.0" font-size="21.5" font-family="DejaVu Sans Light, DejaVu Sans, sans-serif" font-weight="200" textLength="12.22" lengthAdjust="spacingAndGlyphs" style="stroke:none">/</tspan><tspan x="635.35" dy="-2.0" textLength="29.22" lengthAdjust="spacingAndGlyphs" style="letter-spacing:0.603px">SPF</tspan> <tspan x="675.88" textLength="16.49" lengthAdjust="spacingAndGlyphs" style="letter-spacing:0.525px">X,</tspan> <tspan x="701.12" style="letter-spacing:1.171px">Spacecraft</tspan> <tspan x="802.93" style="letter-spacing:1.378px">(R)</tspan></text>
<text y="706.5" font-size="12.5" fill="#fff"><tspan x="0.61" textLength="19.17" lengthAdjust="spacingAndGlyphs" style="letter-spacing:0.516px">NO</tspan> <tspan x="24.95" textLength="29.57" lengthAdjust="spacingAndGlyphs" style="letter-spacing:0.605px">DATA</tspan> <tspan x="61.98" textLength="64.00" lengthAdjust="spacingAndGlyphs" style="letter-spacing:0.566px">AVAILABLE</tspan> <tspan x="133.82" style="letter-spacing:1.649px">for</tspan> <tspan x="156.97" style="letter-spacing:0.900px">Mars</tspan> <tspan x="196.72" style="letter-spacing:0.596px">Express</tspan> <tspan x="252.64" dy="1.4" font-size="15.6" font-family="DejaVu Sans Light, DejaVu Sans, sans-serif" font-weight="200" textLength="7.71" lengthAdjust="spacingAndGlyphs" style="stroke:none">/</tspan> <tspan x="266.83" dy="-1.4" textLength="49.64" lengthAdjust="spacingAndGlyphs" style="letter-spacing:0.557px">ELSSCIL</tspan></text>
<text y="0" font-size="18" fill="#fff" class="T" transform="translate(70.3,0) rotate(-90)"><tspan x="-206.43" textLength="68.07" lengthAdjust="spacingAndGlyphs" style="letter-spacing:0.515px">Electron</tspan> <tspan x="-130.11" textLength="55.65" lengthAdjust="spacingAndGlyphs" style="letter-spacing:0.542px">Energy</tspan></text>
<text y="0" font-size="18" fill="#fff" class="T" transform="translate(89.5,0) rotate(-90)"><tspan x="-157.59" textLength="35.18" lengthAdjust="spacingAndGlyphs" style="letter-spacing:0.512px">(eV)</tspan></text>
<text y="0" font-size="18" fill="#fff" class="T" transform="translate(70.3,0) rotate(-90)"><tspan x="-662.52" textLength="32.48" lengthAdjust="spacingAndGlyphs" style="letter-spacing:0.581px">Raw</tspan> <tspan x="-620.10" textLength="36.85" lengthAdjust="spacingAndGlyphs" style="letter-spacing:0.545px">Data</tspan> <tspan x="-573.31" textLength="56.85" lengthAdjust="spacingAndGlyphs" style="letter-spacing:0.525px">Quality</tspan></text>
<text y="0" font-size="18" fill="#fff" class="T" transform="translate(89.5,0) rotate(-90)"><tspan x="-613.07" textLength="48.38" lengthAdjust="spacingAndGlyphs" style="letter-spacing:0.523px">(Raw)</tspan></text>
<text y="0" font-size="18" fill="#fff" class="T" transform="translate(969.2,0) rotate(90)"><tspan x="503.63" textLength="93.25" lengthAdjust="spacingAndGlyphs" style="letter-spacing:0.524px">Component</tspan> <tspan x="606.87" textLength="69.38" lengthAdjust="spacingAndGlyphs" style="letter-spacing:0.536px">Distance</tspan></text>
<text y="0" font-size="18" fill="#fff" class="T" transform="translate(948.5,0) rotate(90)"><tspan x="569.63" style="letter-spacing:1.583px">(km)</tspan></text>
<rect x="226" y="572" width="6" height="1" fill="#fff"/>
<rect x="233" y="572" width="15" height="1" fill="#fff"/>
<rect x="249" y="572" width="14" height="1" fill="#fff"/>
<rect x="264" y="572" width="15" height="1" fill="#fff"/>
<rect x="280" y="572" width="14" height="1" fill="#fff"/>
<rect x="295" y="572" width="15" height="1" fill="#fff"/>
<rect x="311" y="572" width="14" height="1" fill="#fff"/>
<rect x="326" y="572" width="15" height="1" fill="#fff"/>
<rect x="342" y="572" width="15" height="1" fill="#fff"/>
<rect x="358" y="572" width="14" height="1" fill="#fff"/>
<rect x="373" y="572" width="15" height="1" fill="#fff"/>
<rect x="389" y="572" width="14" height="1" fill="#fff"/>
<rect x="404" y="572" width="15" height="1" fill="#fff"/>
<rect x="420" y="572" width="10" height="1" fill="#fff"/>
<rect x="431" y="607" width="3" height="1" fill="#fff"/>
<rect x="435" y="607" width="15" height="1" fill="#fff"/>
<rect x="451" y="607" width="14" height="1" fill="#fff"/>
<rect x="466" y="607" width="15" height="1" fill="#fff"/>
<rect x="482" y="607" width="14" height="1" fill="#fff"/>
<rect x="497" y="607" width="15" height="1" fill="#fff"/>
<rect x="513" y="607" width="14" height="1" fill="#fff"/>
<rect x="528" y="607" width="15" height="1" fill="#fff"/>
<rect x="544" y="607" width="15" height="1" fill="#fff"/>
<rect x="560" y="607" width="14" height="1" fill="#fff"/>
<rect x="575" y="607" width="10" height="1" fill="#fff"/>
<rect x="430" y="606" width="1" height="1" fill="#fff"/>
<rect x="585" y="627" width="1" height="1" fill="#fff"/>
<rect x="586" y="643" width="3" height="1" fill="#fff"/>
<rect x="590" y="643" width="15" height="1" fill="#fff"/>
<rect x="606" y="643" width="14" height="1" fill="#fff"/>
<rect x="621" y="643" width="15" height="1" fill="#fff"/>
<rect x="637" y="643" width="14" height="1" fill="#fff"/>
<rect x="652" y="643" width="15" height="1" fill="#fff"/>
<rect x="668" y="643" width="14" height="1" fill="#fff"/>
<rect x="683" y="643" width="15" height="1" fill="#fff"/>
<rect x="699" y="643" width="14" height="1" fill="#fff"/>
<rect x="714" y="643" width="15" height="1" fill="#fff"/>
<rect x="730" y="643" width="14" height="1" fill="#fff"/>
<rect x="745" y="643" width="15" height="1" fill="#fff"/>
<rect x="761" y="643" width="14" height="1" fill="#fff"/>
<rect x="776" y="643" width="15" height="1" fill="#fff"/>
<rect x="792" y="643" width="14" height="1" fill="#fff"/>
<rect x="807" y="643" width="7" height="1" fill="#fff"/>
<g fill="#00ff00"><rect x="211" y="586" width="3" height="1"/><rect x="214" y="587" width="5" height="1"/><rect x="219" y="588" width="2" height="1"/><rect x="222" y="589" width="5" height="1"/><rect x="228" y="590" width="3" height="1"/><rect x="231" y="591" width="2" height="1"/><rect x="234" y="591" width="3" height="1"/><rect x="237" y="592" width="2" height="1"/><rect x="240" y="593" width="5" height="1"/><rect x="246" y="594" width="4" height="1"/><rect x="251" y="595" width="5" height="1"/><rect x="257" y="596" width="5" height="1"/><rect x="263" y="597" width="3" height="1"/><rect x="266" y="598" width="2" height="1"/><rect x="269" y="598" width="3" height="1"/><rect x="272" y="599" width="2" height="1"/><rect x="275" y="599" width="3" height="1"/><rect x="278" y="600" width="2" height="1"/><rect x="281" y="600" width="3" height="1"/><rect x="283" y="601" width="2" height="1"/><rect x="286" y="601" width="3" height="1"/><rect x="289" y="602" width="2" height="1"/><rect x="292" y="602" width="3" height="1"/><rect x="295" y="603" width="2" height="1"/><rect x="298" y="604" width="5" height="1"/><rect x="304" y="605" width="5" height="1"/><rect x="310" y="606" width="5" height="1"/><rect x="316" y="607" width="4" height="1"/><rect x="321" y="608" width="3" height="1"/><rect x="324" y="609" width="2" height="1"/><rect x="327" y="609" width="3" height="1"/><rect x="330" y="610" width="2" height="1"/><rect x="333" y="610" width="3" height="1"/><rect x="336" y="611" width="2" height="1"/><rect x="339" y="611" width="3" height="1"/><rect x="342" y="612" width="2" height="1"/><rect x="345" y="613" width="5" height="1"/><rect x="351" y="614" width="4" height="1"/><rect x="356" y="615" width="5" height="1"/><rect x="362" y="616" width="3" height="1"/><rect x="365" y="617" width="2" height="1"/><rect x="368" y="617" width="3" height="1"/><rect x="371" y="618" width="2" height="1"/><rect x="374" y="618" width="3" height="1"/><rect x="377" y="619" width="2" height="1"/><rect x="380" y="619" width="3" height="1"/><rect x="383" y="620" width="2" height="1"/><rect x="386" y="621" width="4" height="1"/><rect x="391" y="622" width="5" height="1"/><rect x="397" y="623" width="5" height="1"/><rect x="403" y="624" width="5" height="1"/><rect x="409" y="625" width="5" height="1"/><rect x="415" y="626" width="5" height="1"/><rect x="420" y="627" width="5" height="1"/><rect x="426" y="628" width="5" height="1"/><rect x="432" y="629" width="5" height="1"/><rect x="438" y="630" width="5" height="1"/><rect x="444" y="631" width="5" height="1"/><rect x="450" y="632" width="5" height="1"/><rect x="455" y="633" width="5" height="1"/><rect x="461" y="634" width="5" height="1"/><rect x="467" y="634" width="3" height="1"/><rect x="470" y="635" width="2" height="1"/><rect x="473" y="635" width="3" height="1"/><rect x="476" y="636" width="2" height="1"/><rect x="479" y="636" width="3" height="1"/><rect x="482" y="637" width="2" height="1"/><rect x="485" y="637" width="5" height="1"/><rect x="490" y="638" width="5" height="1"/><rect x="496" y="639" width="5" height="1"/><rect x="502" y="639" width="3" height="1"/><rect x="505" y="640" width="2" height="1"/><rect x="508" y="640" width="3" height="1"/><rect x="511" y="641" width="2" height="1"/><rect x="514" y="641" width="5" height="1"/><rect x="520" y="642" width="8" height="1"/><rect x="528" y="643" width="9" height="1"/><rect x="537" y="644" width="5" height="1"/><rect x="543" y="644" width="5" height="1"/><rect x="549" y="645" width="9" height="1"/><rect x="557" y="646" width="12" height="1"/><rect x="569" y="647" width="2" height="1"/><rect x="572" y="647" width="5" height="1"/><rect x="578" y="647" width="3" height="1"/><rect x="581" y="648" width="17" height="1"/><rect x="598" y="649" width="2" height="1"/><rect x="601" y="649" width="5" height="1"/><rect x="607" y="649" width="22" height="1"/><rect x="630" y="649" width="5" height="1"/><rect x="636" y="649" width="23" height="1"/><rect x="660" y="649" width="4" height="1"/><rect x="665" y="648" width="12" height="1"/><rect x="677" y="647" width="5" height="1"/><rect x="683" y="646" width="5" height="1"/><rect x="689" y="646" width="3" height="1"/><rect x="692" y="645" width="5" height="1"/><rect x="697" y="644" width="2" height="1"/><rect x="700" y="644" width="3" height="1"/><rect x="703" y="643" width="2" height="1"/><rect x="706" y="642" width="5" height="1"/><rect x="712" y="641" width="3" height="1"/><rect x="715" y="640" width="2" height="1"/><rect x="718" y="639" width="5" height="1"/><rect x="724" y="638" width="2" height="1"/><rect x="727" y="637" width="2" height="1"/><rect x="729" y="636" width="2" height="1"/><rect x="732" y="635" width="2" height="1"/><rect x="735" y="634" width="2" height="1"/><rect x="738" y="633" width="2" height="1"/><rect x="741" y="632" width="2" height="1"/><rect x="744" y="631" width="2" height="1"/><rect x="747" y="629" width="2" height="1"/><rect x="750" y="628" width="2" height="1"/><rect x="753" y="627" width="2" height="1"/><rect x="756" y="625" width="2" height="1"/><rect x="759" y="624" width="2" height="1"/><rect x="762" y="622" width="2" height="1"/><rect x="764" y="621" width="2" height="1"/><rect x="767" y="620" width="2" height="1"/><rect x="770" y="618" width="2" height="1"/><rect x="773" y="617" width="2" height="1"/><rect x="776" y="615" width="2" height="1"/><rect x="779" y="613" width="2" height="1"/><rect x="782" y="611" width="2" height="1"/><rect x="785" y="609" width="2" height="1"/><rect x="788" y="608" width="2" height="1"/><rect x="791" y="606" width="2" height="1"/><rect x="794" y="604" width="2" height="1"/><rect x="797" y="601" width="2" height="1"/><rect x="799" y="600" width="2" height="1"/><rect x="802" y="598" width="2" height="1"/><rect x="805" y="596" width="2" height="1"/><rect x="808" y="593" width="2" height="1"/><rect x="811" y="591" width="2" height="1"/><rect x="814" y="589" width="2" height="1"/><rect x="817" y="586" width="2" height="1"/><rect x="820" y="584" width="2" height="1"/><rect x="823" y="582" width="2" height="1"/><rect x="826" y="579" width="2" height="1"/></g>
</svg>
</body></html>
